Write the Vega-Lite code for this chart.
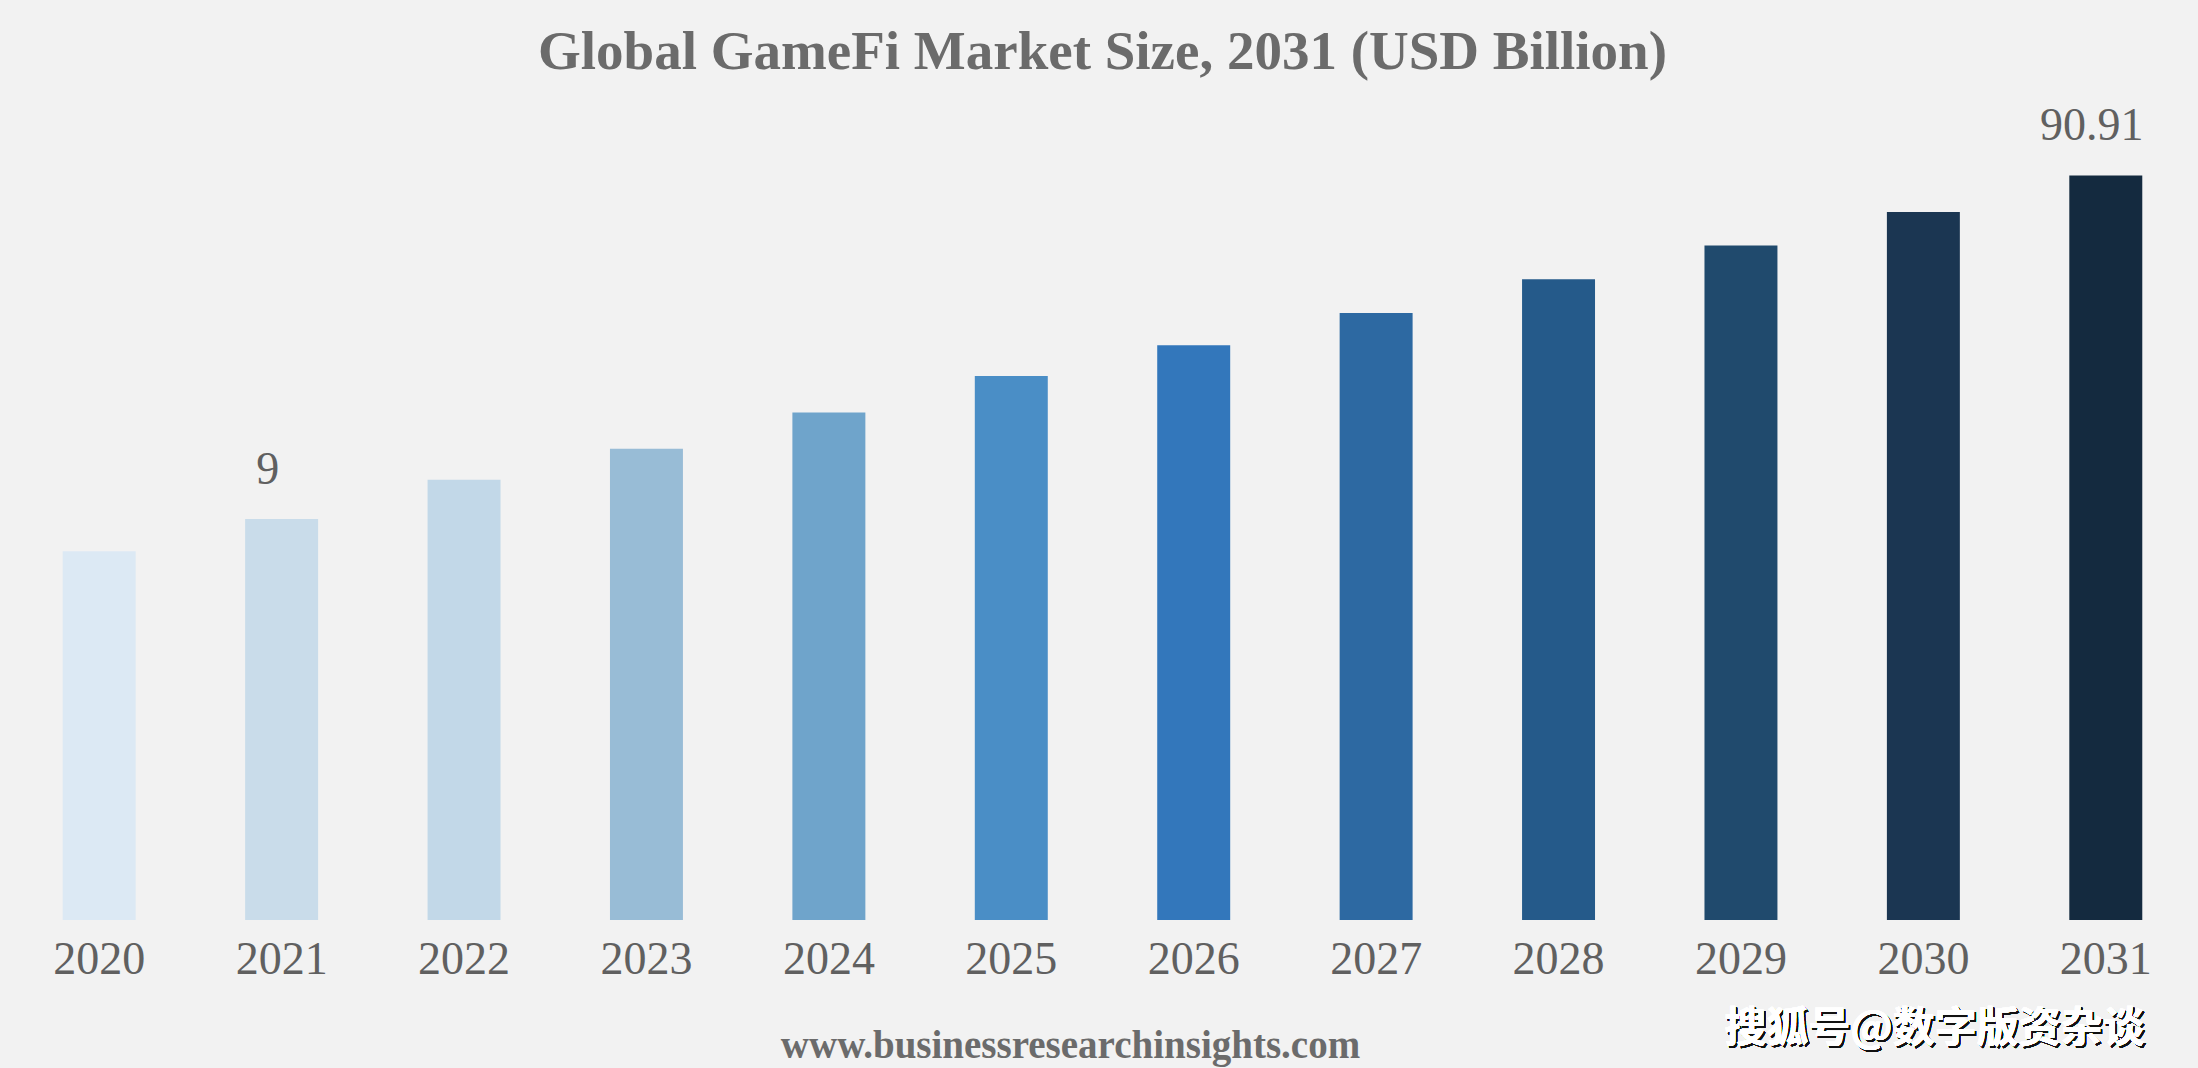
{
  "$schema": "https://vega.github.io/schema/vega-lite/v6.json",
  "width": 2189,
  "height": 819,
  "autosize": {"type": "none"},
  "padding": {"left": 8, "top": 101, "right": 1, "bottom": 148},
  "background": "#f2f2f2",
  "config": {
    "view": {"stroke": null},
    "font": "Liberation Serif"
  },
  "title": {
    "text": "Global GameFi Market Size, 2031 (USD Billion)",
    "font": "Liberation Serif",
    "fontSize": 55,
    "fontWeight": "bold",
    "color": "#6b6b6b",
    "anchor": "middle",
    "offset": 20
  },
  "data": {
    "values": [
      {"year": "2020", "value": 45.03, "label": ""},
      {"year": "2021", "value": 48.97, "label": "9"},
      {"year": "2022", "value": 53.76, "label": ""},
      {"year": "2023", "value": 57.53, "label": ""},
      {"year": "2024", "value": 61.98, "label": ""},
      {"year": "2025", "value": 66.43, "label": ""},
      {"year": "2026", "value": 70.19, "label": ""},
      {"year": "2027", "value": 74.13, "label": ""},
      {"year": "2028", "value": 78.24, "label": ""},
      {"year": "2029", "value": 82.35, "label": ""},
      {"year": "2030", "value": 86.46, "label": ""},
      {"year": "2031", "value": 90.91, "label": "90.91"}
    ]
  },
  "encoding": {
    "x": {
      "field": "year",
      "type": "nominal",
      "scale": {"paddingInner": 0.6, "paddingOuter": 0.3},
      "axis": {
        "labelAngle": 0,
        "labelFontSize": 46,
        "labelColor": "#606060",
        "labelPadding": 17,
        "domain": false,
        "ticks": false,
        "title": "www.businessresearchinsights.com",
        "titleFontSize": 39,
        "titleFontWeight": "bold",
        "titleColor": "#6b6b6b",
        "titleX": 1062,
        "titlePadding": 44
      }
    },
    "y": {
      "field": "value",
      "type": "quantitative",
      "scale": {"domain": [0, 100]},
      "axis": null
    }
  },
  "layer": [
    {
      "mark": {"type": "bar"},
      "encoding": {
        "color": {
          "field": "year",
          "type": "nominal",
          "legend": null,
          "scale": {
            "range": ["#dce9f4", "#c9dcea", "#c2d8e8", "#98bcd6", "#6fa4cb", "#4a8ec6", "#3377bb", "#2d69a2", "#255a8a", "#204a6d", "#1b3652", "#142a3f"]
          }
        }
      }
    },
    {
      "mark": {"type": "text", "baseline": "alphabetic", "dy": -35, "dx": -14, "fontSize": 46, "color": "#606060"},
      "encoding": {
        "text": {"field": "label"}
      }
    },
    {
      "mark": {"type": "text", "align": "right", "baseline": "middle", "fontSize": 42, "fontWeight": "bold", "font": "Noto Sans CJK SC", "color": "#111111", "dx": 2, "dy": 2, "clip": false},
      "encoding": {
        "x": {"datum": "2031", "bandPosition": 1.03},
        "y": {"datum": -13.3},
        "text": {"value": "搜狐号@数字版资杂谈"}
      }
    },
    {
      "mark": {"type": "text", "align": "right", "baseline": "middle", "fontSize": 42, "fontWeight": "bold", "font": "Noto Sans CJK SC", "color": "#ffffff", "clip": false},
      "encoding": {
        "x": {"datum": "2031", "bandPosition": 1.03},
        "y": {"datum": -13.3},
        "text": {"value": "搜狐号@数字版资杂谈"}
      }
    }
  ]
}
